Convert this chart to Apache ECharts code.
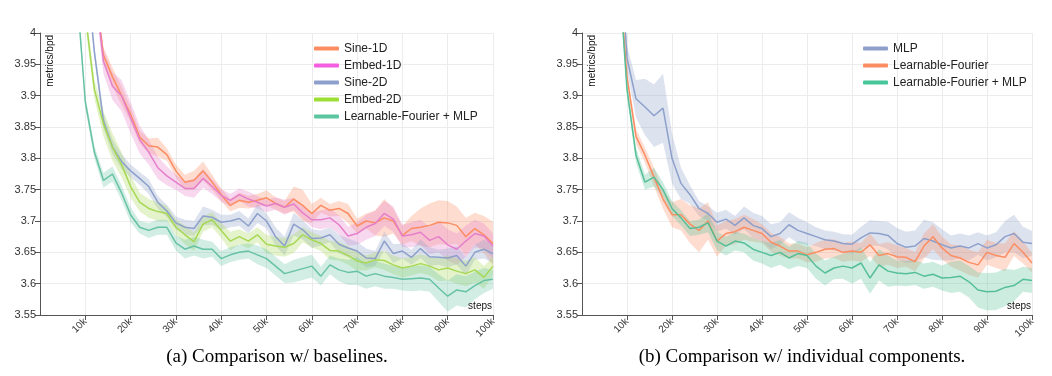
<!DOCTYPE html>
<html>
<head>
<meta charset="utf-8">
<script src="https://cdn.jsdelivr.net/npm/echarts@6/dist/echarts.min.js"></script>
<style>
  html, body { margin: 0; padding: 0; background: #fff; }
  #main { width: 1052px; height: 376px; }
</style>
</head>
<body>
<div id="main"></div>
<script>
// training steps (x values shared by every curve)
var steps = [6000, 8000, 10000, 12000, 14000, 16000, 18000, 20000, 22000, 24000,
  26000, 28000, 30000, 32000, 34000, 36000, 38000, 40000, 42000, 44000,
  46000, 48000, 50000, 52000, 54000, 56000, 58000, 60000, 62000, 64000,
  66000, 68000, 70000, 72000, 74000, 76000, 78000, 80000, 82000, 84000,
  86000, 88000, 90000, 92000, 94000, 96000, 98000, 100000];

var yTicks = [3.55, 3.6, 3.65, 3.7, 3.75, 3.8, 3.85, 3.9, 3.95, 4];

// (a) baselines - mean metrics/bpd
var sine1d = [5.0, 4.7, 4.35, 4.08, 3.965, 3.93, 3.9, 3.87, 3.834, 3.82,
  3.818, 3.806, 3.78, 3.762, 3.765, 3.78, 3.762, 3.742, 3.725, 3.733,
  3.73, 3.733, 3.737, 3.728, 3.722, 3.735, 3.725, 3.712, 3.725, 3.717,
  3.72, 3.712, 3.692, 3.7, 3.697, 3.705, 3.7, 3.677, 3.688, 3.69,
  3.693, 3.698, 3.697, 3.693, 3.675, 3.688, 3.678, 3.664];
var embed1d = [5.0, 4.7, 4.35, 4.08, 3.955, 3.915, 3.9, 3.865, 3.83, 3.81,
  3.785, 3.772, 3.762, 3.752, 3.752, 3.768, 3.755, 3.741, 3.733, 3.742,
  3.735, 3.73, 3.724, 3.728, 3.722, 3.727, 3.713, 3.702, 3.702, 3.705,
  3.694, 3.676, 3.68, 3.69, 3.696, 3.712, 3.703, 3.676, 3.678, 3.682,
  3.669, 3.675, 3.662, 3.655, 3.668, 3.68, 3.676, 3.66];
var sine2d = [4.7, 4.4, 4.12, 3.97, 3.86, 3.818, 3.795, 3.78, 3.768, 3.755,
  3.73, 3.716, 3.697, 3.69, 3.688, 3.708, 3.706, 3.698, 3.7, 3.704,
  3.692, 3.712, 3.7, 3.675, 3.66, 3.695, 3.686, 3.672, 3.673, 3.678,
  3.663, 3.657, 3.652, 3.641, 3.64, 3.668, 3.648, 3.652, 3.642, 3.656,
  3.643, 3.642, 3.641, 3.645, 3.628, 3.65, 3.655, 3.648];
var embed2d = [4.6, 4.3, 4.03, 3.91, 3.855, 3.818, 3.79, 3.755, 3.73, 3.72,
  3.715, 3.712, 3.69, 3.678, 3.667, 3.695, 3.702, 3.685, 3.668, 3.675,
  3.668, 3.678, 3.663, 3.66, 3.658, 3.664, 3.678, 3.67, 3.664, 3.653,
  3.652, 3.645, 3.636, 3.633, 3.638, 3.637, 3.63, 3.625, 3.628, 3.632,
  3.628, 3.622, 3.625, 3.62, 3.616, 3.622, 3.61, 3.628];
var lfMlpA = [4.45, 4.08, 3.89, 3.81, 3.765, 3.775, 3.745, 3.71, 3.69, 3.685,
  3.69, 3.69, 3.665, 3.655, 3.66, 3.655, 3.655, 3.64, 3.646, 3.65,
  3.652, 3.646, 3.64, 3.628, 3.616, 3.62, 3.624, 3.628, 3.612, 3.63,
  3.622, 3.618, 3.62, 3.612, 3.616, 3.612, 3.61, 3.607, 3.608, 3.609,
  3.607, 3.593, 3.58, 3.59, 3.587, 3.597, 3.605, 3.607];

// (a) half-width of the shaded bands
var sine1dBand = [0.015, 0.015, 0.015, 0.015, 0.012, 0.015, 0.015, 0.012, 0.01, 0.012,
  0.015, 0.01, 0.01, 0.012, 0.015, 0.015, 0.012, 0.01, 0.01, 0.012,
  0.01, 0.01, 0.012, 0.01, 0.01, 0.02, 0.025, 0.015, 0.012, 0.01,
  0.012, 0.015, 0.012, 0.012, 0.02, 0.03, 0.02, 0.015, 0.02, 0.03,
  0.035, 0.035, 0.035, 0.03, 0.03, 0.025, 0.03, 0.035];
var embed1dBand = [0.02, 0.02, 0.02, 0.02, 0.02, 0.022, 0.025, 0.025, 0.022, 0.02,
  0.018, 0.015, 0.012, 0.012, 0.015, 0.015, 0.012, 0.01, 0.01, 0.01,
  0.012, 0.01, 0.01, 0.01, 0.012, 0.01, 0.01, 0.012, 0.015, 0.015,
  0.015, 0.015, 0.018, 0.02, 0.02, 0.02, 0.02, 0.018, 0.02, 0.02,
  0.022, 0.025, 0.025, 0.025, 0.025, 0.022, 0.02, 0.02];
var sine2dBand = [0.01, 0.01, 0.01, 0.01, 0.012, 0.012, 0.012, 0.01, 0.01, 0.012,
  0.01, 0.01, 0.01, 0.012, 0.012, 0.015, 0.012, 0.012, 0.01, 0.012,
  0.012, 0.015, 0.012, 0.015, 0.015, 0.018, 0.015, 0.015, 0.012, 0.012,
  0.015, 0.015, 0.015, 0.015, 0.012, 0.015, 0.015, 0.012, 0.012, 0.015,
  0.015, 0.012, 0.015, 0.015, 0.015, 0.012, 0.015, 0.015];
var embed2dBand = [0.015, 0.015, 0.015, 0.015, 0.02, 0.022, 0.02, 0.018, 0.015, 0.015,
  0.015, 0.012, 0.012, 0.015, 0.015, 0.012, 0.012, 0.012, 0.015, 0.012,
  0.012, 0.012, 0.015, 0.015, 0.015, 0.015, 0.012, 0.012, 0.012, 0.015,
  0.015, 0.015, 0.015, 0.012, 0.012, 0.015, 0.015, 0.015, 0.015, 0.015,
  0.015, 0.018, 0.02, 0.02, 0.02, 0.02, 0.018, 0.015];
var lfMlpABand = [0.01, 0.01, 0.01, 0.01, 0.012, 0.012, 0.012, 0.012, 0.01, 0.012,
  0.012, 0.012, 0.012, 0.015, 0.015, 0.015, 0.012, 0.012, 0.012, 0.012,
  0.012, 0.015, 0.015, 0.015, 0.015, 0.018, 0.018, 0.018, 0.015, 0.015,
  0.018, 0.02, 0.022, 0.02, 0.02, 0.02, 0.018, 0.018, 0.02, 0.02,
  0.02, 0.022, 0.025, 0.025, 0.025, 0.022, 0.02, 0.015];

// (b) individual components - mean metrics/bpd
var mlp = [4.5, 4.2, 3.96, 3.895, 3.882, 3.868, 3.88, 3.8, 3.76, 3.742,
  3.72, 3.712, 3.698, 3.703, 3.693, 3.705, 3.693, 3.688, 3.675, 3.68,
  3.694, 3.685, 3.68, 3.675, 3.67, 3.668, 3.664, 3.663, 3.673, 3.681,
  3.68, 3.677, 3.664, 3.658, 3.66, 3.672, 3.668, 3.662, 3.657, 3.66,
  3.657, 3.664, 3.657, 3.662, 3.675, 3.68, 3.666, 3.664];
var learnFourier = [4.4, 4.12, 3.93, 3.835, 3.805, 3.77, 3.735, 3.71, 3.71, 3.695,
  3.685, 3.7, 3.668, 3.68, 3.683, 3.69, 3.685, 3.68, 3.666, 3.66,
  3.652, 3.652, 3.646, 3.65, 3.655, 3.656, 3.65, 3.652, 3.65, 3.662,
  3.645, 3.648, 3.643, 3.642, 3.635, 3.66, 3.675, 3.657, 3.645, 3.641,
  3.634, 3.63, 3.65, 3.645, 3.642, 3.664, 3.65, 3.633];
var lfMlpB = [4.4, 4.12, 3.91, 3.805, 3.762, 3.77, 3.75, 3.72, 3.705, 3.688,
  3.69, 3.697, 3.668, 3.66, 3.668, 3.665, 3.655, 3.65, 3.645, 3.65,
  3.641, 3.648, 3.645, 3.628, 3.617, 3.625, 3.628, 3.625, 3.633, 3.609,
  3.63, 3.62, 3.617, 3.616, 3.618, 3.612, 3.615, 3.609, 3.61, 3.612,
  3.603, 3.59, 3.587, 3.588, 3.594, 3.597, 3.607, 3.605];

// (b) half-width of the shaded bands
var mlpBand = [0.02, 0.02, 0.02, 0.03, 0.045, 0.05, 0.055, 0.04, 0.025, 0.015,
  0.012, 0.012, 0.015, 0.015, 0.015, 0.018, 0.02, 0.02, 0.02, 0.018,
  0.02, 0.02, 0.018, 0.015, 0.015, 0.015, 0.015, 0.015, 0.018, 0.02,
  0.02, 0.022, 0.025, 0.025, 0.025, 0.03, 0.03, 0.025, 0.02, 0.02,
  0.02, 0.018, 0.02, 0.02, 0.025, 0.03, 0.025, 0.02];
var learnFourierBand = [0.01, 0.01, 0.01, 0.012, 0.012, 0.015, 0.015, 0.02, 0.025, 0.03,
  0.035, 0.03, 0.025, 0.02, 0.02, 0.02, 0.018, 0.015, 0.015, 0.015,
  0.012, 0.012, 0.012, 0.015, 0.015, 0.015, 0.015, 0.015, 0.015, 0.018,
  0.018, 0.018, 0.018, 0.015, 0.015, 0.02, 0.02, 0.018, 0.018, 0.02,
  0.02, 0.02, 0.02, 0.02, 0.022, 0.02, 0.018, 0.015];
var lfMlpBBand = [0.01, 0.01, 0.01, 0.012, 0.012, 0.015, 0.012, 0.012, 0.012, 0.012,
  0.012, 0.015, 0.015, 0.015, 0.015, 0.015, 0.018, 0.018, 0.02, 0.02,
  0.018, 0.02, 0.02, 0.02, 0.02, 0.018, 0.02, 0.025, 0.025, 0.025,
  0.025, 0.025, 0.02, 0.02, 0.02, 0.02, 0.02, 0.02, 0.025, 0.025,
  0.025, 0.028, 0.03, 0.03, 0.03, 0.025, 0.02, 0.02];

var chartA = [
  { name: 'Sine-1D', mean: sine1d, band: sine1dBand, color: '#fc8d62', legend: '#fc8d62' },
  { name: 'Embed-1D', mean: embed1d, band: embed1dBand, color: '#e67fcb', legend: '#f35fe0' },
  { name: 'Sine-2D', mean: sine2d, band: sine2dBand, color: '#8da0cb', legend: '#8da0cb' },
  { name: 'Embed-2D', mean: embed2d, band: embed2dBand, color: '#a6d854', legend: '#9cde36' },
  { name: 'Learnable-Fourier + MLP', mean: lfMlpA, band: lfMlpABand, color: '#66c2a5', legend: '#5cc6a0' }
];
var chartB = [
  { name: 'MLP', mean: mlp, band: mlpBand, color: '#8da0cb', legend: '#8da0cb' },
  { name: 'Learnable-Fourier', mean: learnFourier, band: learnFourierBand, color: '#fc8d62', legend: '#fc8d62' },
  { name: 'Learnable-Fourier + MLP ', mean: lfMlpB, band: lfMlpBBand, color: '#55bf97', legend: '#47c69a' }
];

var myChart = echarts.init(document.getElementById('main'));

function hexAlpha(hex, a) {
  var n = parseInt(hex.slice(1), 16);
  return 'rgba(' + (n >> 16) + ',' + ((n >> 8) & 255) + ',' + (n & 255) + ',' + a + ')';
}

// shaded band: one polygon (upper edge forward, lower edge back) drawn with the axis scales
function bandSeries(c, gi) {
  var data = steps.map(function (s, i) { return [s, c.mean[i] - c.band[i], c.mean[i] + c.band[i]]; });
  return {
    type: 'custom', name: c.name + ' band', xAxisIndex: gi, yAxisIndex: gi,
    data: data, silent: true, clip: true, z: 1,
    encode: { x: 0, y: [1, 2] },
    renderItem: function (params, api) {
      if (params.dataIndex !== 0) return null;
      var up = [], lo = [];
      for (var i = 0; i < data.length; i++) {
        up.push(api.coord([data[i][0], data[i][2]]));
        lo.unshift(api.coord([data[i][0], data[i][1]]));
      }
      var cs = params.coordSys;
      return {
        type: 'polygon',
        shape: { points: up.concat(lo) },
        style: { fill: hexAlpha(c.color, 0.3) },
        clipPath: { type: 'rect', shape: { x: cs.x, y: cs.y, width: cs.width, height: cs.height } }
      };
    }
  };
}

var bands = [], lines = [];
function addCurves(list, gi) {
  list.forEach(function (c) {
    bands.push(bandSeries(c, gi));
    lines.push({
      type: 'line', name: c.name, xAxisIndex: gi, yAxisIndex: gi,
      data: steps.map(function (s, i) { return [s, c.mean[i]]; }),
      symbol: 'none', color: c.color,
      lineStyle: { width: 1.5, color: c.color }, z: 3
    });
  });
}
addCurves(chartA, 0);
addCurves(chartB, 1);

var axisColor = '#555';
function xAxisOpt(gi) {
  return {
    type: 'value', gridIndex: gi, min: 0, max: 100000, interval: 10000,
    axisLine: { lineStyle: { color: axisColor } },
    axisTick: { length: 5, lineStyle: { color: axisColor } },
    axisLabel: {
      rotate: 45, fontSize: 10, color: '#333', margin: 5,
      fontFamily: 'Liberation Sans', showMinLabel: false,
      formatter: function (v) { return v === 0 ? '' : (v / 1000) + 'k'; }
    },
    splitLine: { show: true, lineStyle: { color: '#ececec' } }
  };
}
function yAxisOpt(gi) {
  return {
    type: 'value', gridIndex: gi, min: yTicks[0], max: yTicks[yTicks.length - 1], interval: 0.05,
    axisLine: { show: true, lineStyle: { color: axisColor } },
    axisTick: { show: true, length: 5, lineStyle: { color: axisColor } },
    axisLabel: { fontSize: 11, color: '#333', margin: 4, fontFamily: 'Liberation Sans' },
    splitLine: { show: true, lineStyle: { color: '#ececec' } }
  };
}
function legendOpt(list, left) {
  return {
    orient: 'vertical', left: left, top: 37, itemGap: 4,
    itemWidth: 25, itemHeight: 4, icon: 'roundRect',
    textStyle: { fontSize: 12, color: '#222', fontFamily: 'Liberation Sans', lineHeight: 13 },
    data: list.map(function (c) { return { name: c.name, itemStyle: { color: c.legend } }; })
  };
}
function axisText(x, y, text, rotate, align) {
  return {
    type: 'text', x: x, y: y, rotation: rotate, silent: true, z: 10,
    style: { text: text, fontSize: 10, fill: '#111', fontFamily: 'Liberation Sans',
      align: align, verticalAlign: rotate ? 'top' : 'middle' }
  };
}

var option = {
  animation: false,
  backgroundColor: '#fff',
  grid: [
    { left: 40, top: 33, width: 453, height: 282 },
    { left: 582, top: 33, width: 450, height: 282 }
  ],
  xAxis: [xAxisOpt(0), xAxisOpt(1)],
  yAxis: [yAxisOpt(0), yAxisOpt(1)],
  legend: [legendOpt(chartA, 309), legendOpt(chartB, 858)],
  title: [
    { text: '(a) Comparison w/ baselines.', left: 272, top: 343, textAlign: 'center',
      textStyle: { fontFamily: 'Liberation Serif', fontSize: 19, fontWeight: 'normal', color: '#000' } },
    { text: '(b) Comparison w/ individual components.', left: 797, top: 343, textAlign: 'center',
      textStyle: { fontFamily: 'Liberation Serif', fontSize: 19, fontWeight: 'normal', color: '#000' } }
  ],
  graphic: [
    axisText(45, 35, 'metrics/bpd', Math.PI / 2, 'right'),
    axisText(492, 306, 'steps', 0, 'right'),
    axisText(587, 35, 'metrics/bpd', Math.PI / 2, 'right'),
    axisText(1031, 306, 'steps', 0, 'right')
  ],
  series: bands.concat(lines)
};

myChart.setOption(option);
</script>
</body>
</html>
